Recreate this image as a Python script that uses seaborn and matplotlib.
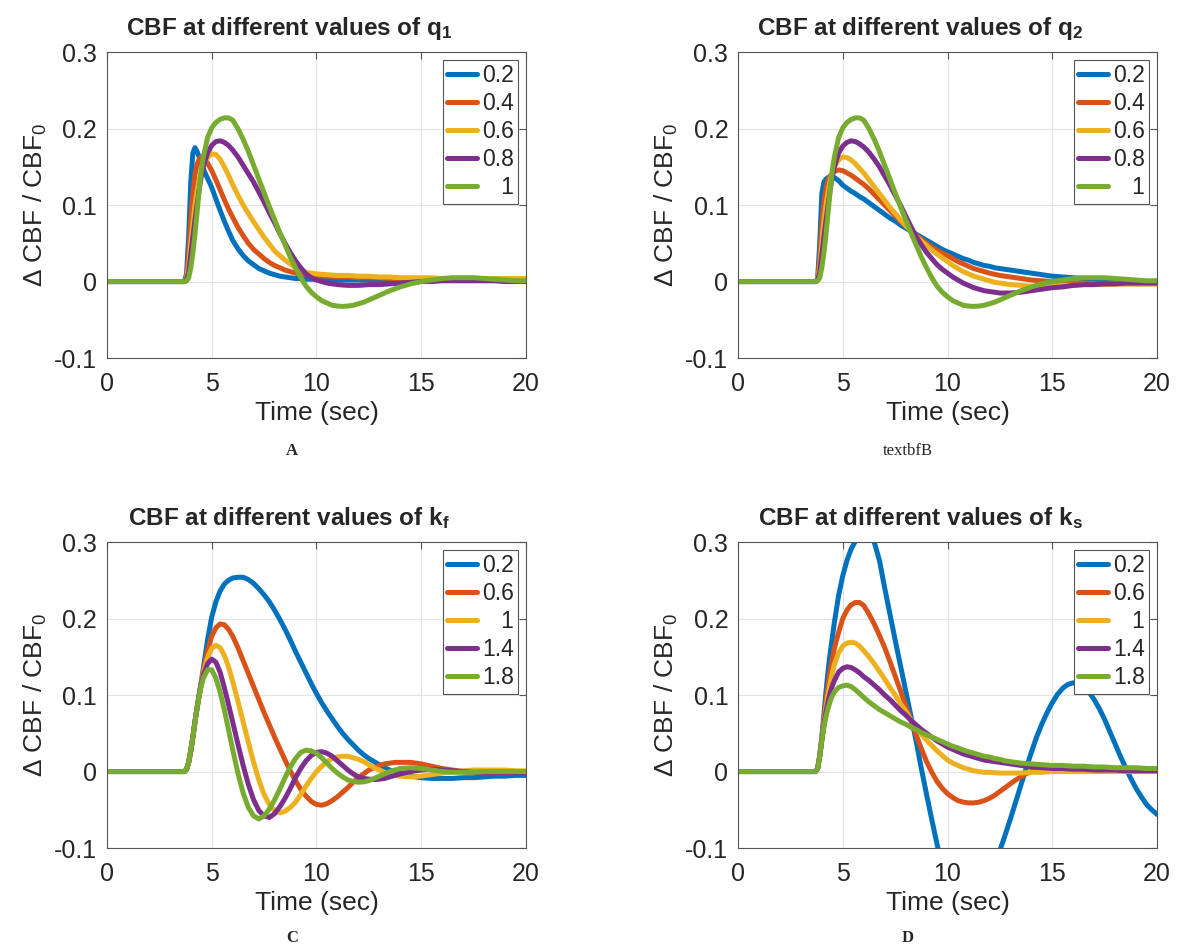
import pandas as pd
import seaborn as sns
import matplotlib
matplotlib.use("Agg")
import matplotlib.pyplot as plt

# time grid (sec) for panels A-C
t = [0, 3.7, 3.8, 3.9, 4.0, 4.1, 4.2, 4.3, 4.4, 4.5, 4.6, 4.8, 5.0, 5.2, 5.4, 5.6, 5.8,
     6.0, 6.25, 6.5, 6.75, 7.0, 7.25, 7.5, 7.75, 8.0, 8.25, 8.5, 8.75, 9.0, 9.25, 9.5, 9.75,
     10.0, 10.25, 10.5, 10.75, 11.0, 11.25, 11.5, 11.75, 12.0, 12.25, 12.5, 12.75, 13.0, 13.25, 13.5, 13.75, 14.0,
     14.5, 15.0, 15.5, 16.0, 16.5, 17.0, 17.5, 18.0, 18.5, 19.0, 19.5, 20.0]
# panel D has a finer tail (second oscillation of the 0.2 curve)
t_d = [0, 3.7, 3.8, 3.9, 4.0, 4.1, 4.2, 4.3, 4.4, 4.5, 4.6, 4.8, 5.0, 5.2, 5.4, 5.6, 5.8,
       6.0, 6.25, 6.5, 6.75, 7.0, 7.25, 7.5, 7.75, 8.0, 8.25, 8.5, 8.75, 9.0, 9.25, 9.5, 9.75,
       10.0, 10.25, 10.5, 10.75, 11.0, 11.25, 11.5, 11.75, 12.0, 12.25, 12.5, 12.75, 13.0, 13.25, 13.5, 13.75, 14.0,
       14.25, 14.5, 14.75, 15.0, 15.25, 15.5, 15.75, 16.0, 16.25, 16.5, 16.75, 17.0,
       17.25, 17.5, 17.75, 18.0, 18.25, 18.5, 18.75, 19.0, 19.25, 19.5, 19.75, 20.0]

# panel A: q1
q1_labels = ["0.2", "0.4", "0.6", "0.8", "   1"]
a_02 = [0, 0, 0.010, 0.060, 0.130, 0.168, 0.175, 0.170, 0.163, 0.155, 0.147, 0.135, 0.123, 0.108, 0.093, 0.079, 0.066,
        0.054, 0.043, 0.034, 0.027, 0.022, 0.017, 0.014, 0.011, 0.009, 0.007, 0.006, 0.005, 0.004, 0.004, 0.003, 0.003,
        0.003, 0.003, 0.002, 0.002, 0.002, 0.002, 0.002, 0.002, 0.002, 0.002, 0.002, 0.002, 0.002, 0.002, 0.002, 0.002, 0.002,
        0.002, 0.002, 0.002, 0.002, 0.002, 0.002, 0.002, 0.002, 0.002, 0.002, 0.002, 0.002]
a_04 = [0, 0, 0.005, 0.035, 0.080, 0.115, 0.140, 0.153, 0.160, 0.163, 0.162, 0.155, 0.145, 0.133, 0.120, 0.107, 0.095,
        0.084, 0.071, 0.060, 0.050, 0.042, 0.036, 0.030, 0.025, 0.021, 0.018, 0.015, 0.013, 0.011, 0.010, 0.009, 0.0085,
        0.008, 0.0075, 0.007, 0.0065, 0.006, 0.006, 0.006, 0.0055, 0.005, 0.005, 0.005, 0.005, 0.005, 0.0045, 0.004, 0.004, 0.004,
        0.004, 0.004, 0.004, 0.003, 0.003, 0.003, 0.003, 0.003, 0.003, 0.003, 0.003, 0.003]
a_06 = [0, 0, 0.003, 0.020, 0.050, 0.075, 0.100, 0.118, 0.133, 0.145, 0.153, 0.162, 0.167, 0.166, 0.160, 0.150, 0.139,
        0.127, 0.113, 0.100, 0.089, 0.078, 0.068, 0.058, 0.049, 0.040, 0.034, 0.028, 0.023, 0.018, 0.015, 0.012, 0.011,
        0.010, 0.0095, 0.009, 0.0085, 0.008, 0.008, 0.008, 0.0075, 0.007, 0.007, 0.007, 0.0065, 0.006, 0.006, 0.006, 0.0055, 0.005,
        0.005, 0.005, 0.005, 0.004, 0.004, 0.004, 0.004, 0.004, 0.004, 0.004, 0.004, 0.004]
a_08 = [0, 0, 0.002, 0.012, 0.035, 0.058, 0.080, 0.100, 0.120, 0.137, 0.150, 0.168, 0.178, 0.183, 0.184, 0.182, 0.178,
        0.172, 0.163, 0.152, 0.141, 0.130, 0.117, 0.104, 0.090, 0.077, 0.063, 0.050, 0.038, 0.027, 0.018, 0.010, 0.005,
        0.002, 0.0, -0.002, -0.003, -0.004, -0.0045, -0.005, -0.005, -0.005, -0.0045, -0.004, -0.004, -0.004, -0.0035, -0.003, -0.0025, -0.002,
        -0.001, 0.0, 0.0, 0.001, 0.001, 0.001, 0.001, 0.001, 0.001, 0.0, 0.0, 0.0]
a_10 = [0, 0, 0.001, 0.005, 0.018, 0.037, 0.062, 0.090, 0.120, 0.145, 0.163, 0.188, 0.201, 0.208, 0.212, 0.214, 0.214,
        0.211, 0.200, 0.186, 0.170, 0.152, 0.134, 0.116, 0.098, 0.081, 0.064, 0.048, 0.032, 0.018, 0.005, -0.006, -0.014,
        -0.020, -0.025, -0.028, -0.031, -0.032, -0.0325, -0.032, -0.031, -0.029, -0.027, -0.024, -0.021, -0.018, -0.015, -0.012, -0.0095, -0.007,
        -0.003, 0.0, 0.002, 0.004, 0.005, 0.005, 0.005, 0.004, 0.003, 0.002, 0.001, 0.001]

# panel B: q2
q2_labels = ["0.2", "0.4", "0.6", "0.8", "   1"]
b_02 = [0, 0, 0.003, 0.050, 0.115, 0.130, 0.134, 0.136, 0.137, 0.137, 0.136, 0.132, 0.126, 0.122, 0.118, 0.115, 0.111,
        0.108, 0.103, 0.098, 0.093, 0.088, 0.083, 0.079, 0.074, 0.070, 0.066, 0.062, 0.058, 0.054, 0.050, 0.046, 0.042,
        0.039, 0.036, 0.033, 0.030, 0.028, 0.025, 0.023, 0.021, 0.020, 0.018, 0.017, 0.016, 0.015, 0.014, 0.013, 0.012, 0.011,
        0.009, 0.007, 0.006, 0.005, 0.004, 0.003, 0.002, 0.002, 0.001, 0.001, 0.0, 0.0]
b_04 = [0, 0, 0.002, 0.030, 0.075, 0.105, 0.122, 0.132, 0.138, 0.142, 0.144, 0.146, 0.145, 0.142, 0.139, 0.135, 0.131,
        0.127, 0.121, 0.114, 0.107, 0.100, 0.093, 0.086, 0.079, 0.073, 0.067, 0.061, 0.055, 0.050, 0.045, 0.041, 0.037,
        0.034, 0.030, 0.026, 0.023, 0.020, 0.017, 0.015, 0.013, 0.011, 0.0095, 0.008, 0.007, 0.006, 0.005, 0.004, 0.003, 0.002,
        0.001, 0.0, -0.001, -0.002, -0.002, -0.003, -0.003, -0.003, -0.003, -0.003, -0.003, -0.003]
b_06 = [0, 0, 0.002, 0.018, 0.050, 0.078, 0.100, 0.118, 0.132, 0.143, 0.150, 0.159, 0.163, 0.162, 0.159, 0.154, 0.148,
        0.142, 0.133, 0.124, 0.115, 0.106, 0.097, 0.089, 0.081, 0.073, 0.066, 0.059, 0.053, 0.047, 0.041, 0.036, 0.031,
        0.026, 0.021, 0.017, 0.013, 0.010, 0.007, 0.005, 0.003, 0.001, -0.001, -0.002, -0.003, -0.004, -0.0045, -0.005, -0.0055, -0.006,
        -0.006, -0.006, -0.005, -0.005, -0.004, -0.004, -0.004, -0.003, -0.003, -0.003, -0.003, -0.003]
b_08 = [0, 0, 0.002, 0.012, 0.035, 0.058, 0.080, 0.100, 0.120, 0.137, 0.150, 0.168, 0.177, 0.182, 0.184, 0.183, 0.180,
        0.176, 0.169, 0.160, 0.150, 0.138, 0.126, 0.113, 0.100, 0.086, 0.072, 0.059, 0.048, 0.038, 0.030, 0.022, 0.016,
        0.011, 0.006, 0.002, -0.002, -0.005, -0.008, -0.010, -0.012, -0.013, -0.014, -0.015, -0.015, -0.015, -0.0145, -0.014, -0.013, -0.012,
        -0.010, -0.008, -0.007, -0.005, -0.004, -0.004, -0.003, -0.003, -0.002, -0.002, -0.002, -0.002]
b_10 = [0, 0, 0.001, 0.005, 0.018, 0.037, 0.062, 0.090, 0.120, 0.145, 0.163, 0.188, 0.201, 0.208, 0.212, 0.214, 0.214,
        0.211, 0.200, 0.186, 0.170, 0.152, 0.134, 0.116, 0.098, 0.081, 0.064, 0.048, 0.032, 0.018, 0.005, -0.006, -0.014,
        -0.020, -0.025, -0.028, -0.031, -0.032, -0.0325, -0.032, -0.031, -0.029, -0.027, -0.024, -0.021, -0.018, -0.015, -0.012, -0.0095, -0.007,
        -0.003, 0.0, 0.002, 0.004, 0.005, 0.005, 0.005, 0.004, 0.003, 0.002, 0.001, 0.001]

# panel C: kf
kf_labels = ["0.2", "0.6", "   1", "1.4", "1.8"]
c_02 = [0, 0, 0.003, 0.012, 0.027, 0.045, 0.065, 0.083, 0.100, 0.117, 0.135, 0.172, 0.202, 0.222, 0.236, 0.245, 0.250,
        0.253, 0.254, 0.254, 0.251, 0.246, 0.239, 0.231, 0.222, 0.211, 0.199, 0.186, 0.172, 0.157, 0.143, 0.129, 0.115,
        0.102, 0.090, 0.079, 0.069, 0.059, 0.050, 0.042, 0.035, 0.028, 0.022, 0.017, 0.013, 0.009, 0.005, 0.002, -0.001, -0.003,
        -0.006, -0.008, -0.009, -0.009, -0.009, -0.008, -0.008, -0.007, -0.006, -0.006, -0.005, -0.005]
c_06 = [0, 0, 0.003, 0.012, 0.027, 0.045, 0.065, 0.083, 0.100, 0.116, 0.132, 0.158, 0.177, 0.188, 0.193, 0.192, 0.186,
        0.177, 0.162, 0.145, 0.128, 0.111, 0.094, 0.077, 0.061, 0.045, 0.030, 0.015, 0.001, -0.012, -0.023, -0.032, -0.039,
        -0.043, -0.044, -0.042, -0.038, -0.033, -0.027, -0.021, -0.014, -0.008, -0.003, 0.002, 0.005, 0.008, 0.010, 0.011, 0.012, 0.012,
        0.012, 0.010, 0.007, 0.004, 0.002, 0.0, -0.001, -0.001, -0.001, -0.001, 0.0, 0.0]
c_10 = [0, 0, 0.003, 0.012, 0.027, 0.045, 0.065, 0.083, 0.100, 0.115, 0.129, 0.149, 0.161, 0.165, 0.162, 0.152, 0.137,
        0.118, 0.092, 0.065, 0.038, 0.012, -0.011, -0.030, -0.043, -0.051, -0.054, -0.052, -0.047, -0.040, -0.030, -0.019, -0.009,
        0.0, 0.007, 0.013, 0.017, 0.019, 0.020, 0.020, 0.018, 0.016, 0.013, 0.009, 0.005, 0.002, -0.001, -0.003, -0.005, -0.006,
        -0.007, -0.006, -0.004, -0.002, 0.0, 0.001, 0.002, 0.002, 0.002, 0.002, 0.001, 0.001]
c_14 = [0, 0, 0.003, 0.012, 0.027, 0.045, 0.065, 0.083, 0.100, 0.114, 0.126, 0.141, 0.147, 0.143, 0.130, 0.110, 0.088,
        0.065, 0.036, 0.008, -0.017, -0.037, -0.051, -0.058, -0.060, -0.055, -0.046, -0.035, -0.022, -0.008, 0.004, 0.014, 0.021,
        0.025, 0.026, 0.024, 0.020, 0.014, 0.008, 0.002, -0.003, -0.007, -0.009, -0.010, -0.0105, -0.010, -0.009, -0.007, -0.005, -0.003,
        0.0, 0.002, 0.003, 0.002, 0.001, 0.0, -0.001, -0.001, -0.001, -0.001, -0.001, -0.001]
c_18 = [0, 0, 0.003, 0.012, 0.027, 0.045, 0.065, 0.083, 0.099, 0.112, 0.122, 0.133, 0.133, 0.122, 0.104, 0.081, 0.055,
        0.029, -0.002, -0.028, -0.047, -0.058, -0.062, -0.058, -0.049, -0.037, -0.023, -0.008, 0.006, 0.017, 0.025, 0.028, 0.027,
        0.024, 0.018, 0.011, 0.004, -0.002, -0.007, -0.011, -0.013, -0.014, -0.0135, -0.012, -0.009, -0.006, -0.003, 0.0, 0.002, 0.004,
        0.005, 0.004, 0.002, 0.0, -0.001, -0.001, -0.001, 0.0, 0.0, 0.0, 0.0, 0.0]

# panel D: ks (on t_d)
ks_labels = ["0.2", "0.6", "   1", "1.4", "1.8"]
d_02 = [0, 0, 0.004, 0.020, 0.045, 0.075, 0.105, 0.132, 0.155, 0.175, 0.195, 0.230, 0.256, 0.276, 0.291, 0.301, 0.307,
        0.310, 0.309, 0.300, 0.276, 0.240, 0.206, 0.172, 0.139, 0.106, 0.073, 0.040, 0.004, -0.030, -0.063, -0.095, -0.124,
        -0.147, -0.165, -0.177, -0.184, -0.185, -0.181, -0.172, -0.158, -0.141, -0.122, -0.103, -0.083, -0.062, -0.040, -0.018, 0.004, 0.025,
        0.045, 0.062, 0.077, 0.090, 0.101, 0.109, 0.114, 0.116, 0.115, 0.111, 0.104, 0.094,
        0.082, 0.068, 0.052, 0.036, 0.020, 0.005, -0.009, -0.022, -0.033, -0.043, -0.050, -0.056]
d_06 = [0, 0, 0.004, 0.020, 0.043, 0.068, 0.092, 0.113, 0.132, 0.147, 0.161, 0.182, 0.200, 0.211, 0.218, 0.221, 0.221,
        0.217, 0.206, 0.193, 0.178, 0.162, 0.144, 0.125, 0.106, 0.086, 0.067, 0.048, 0.030, 0.013, -0.001, -0.013, -0.022,
        -0.029, -0.034, -0.038, -0.040, -0.041, -0.041, -0.040, -0.038, -0.035, -0.031, -0.026, -0.021, -0.016, -0.011, -0.007, -0.003, 0.0,
        0.002, 0.003, 0.0035, 0.004, 0.0045, 0.005, 0.005, 0.005, 0.005, 0.005, 0.005, 0.0045,
        0.004, 0.004, 0.004, 0.0035, 0.003, 0.003, 0.003, 0.0025, 0.002, 0.002, 0.0015, 0.001]
d_10 = [0, 0, 0.004, 0.020, 0.042, 0.064, 0.084, 0.101, 0.116, 0.129, 0.140, 0.155, 0.164, 0.168, 0.169, 0.168, 0.164,
        0.158, 0.150, 0.141, 0.131, 0.121, 0.110, 0.100, 0.089, 0.079, 0.068, 0.058, 0.049, 0.041, 0.034, 0.027, 0.021,
        0.015, 0.011, 0.008, 0.005, 0.003, 0.001, 0.0, -0.001, -0.001, -0.0015, -0.002, -0.002, -0.002, -0.002, -0.002, -0.0015, -0.001,
        -0.001, -0.001, -0.0005, 0.0, 0.0, 0.0, 0.0, 0.0, 0.0, 0.0, 0.0, 0.0,
        0.0, 0.0, 0.0, 0.0, 0.0, 0.0, 0.0, 0.0, 0.0, 0.0, 0.0, 0.0]
d_14 = [0, 0, 0.004, 0.020, 0.041, 0.061, 0.078, 0.092, 0.103, 0.112, 0.119, 0.130, 0.135, 0.137, 0.136, 0.133, 0.129,
        0.124, 0.119, 0.113, 0.107, 0.100, 0.094, 0.087, 0.080, 0.074, 0.067, 0.061, 0.055, 0.050, 0.045, 0.040, 0.036,
        0.032, 0.029, 0.026, 0.023, 0.021, 0.019, 0.017, 0.015, 0.014, 0.013, 0.012, 0.011, 0.010, 0.009, 0.008, 0.007, 0.006,
        0.0055, 0.005, 0.0045, 0.004, 0.004, 0.004, 0.0035, 0.003, 0.003, 0.003, 0.0025, 0.002,
        0.002, 0.002, 0.002, 0.002, 0.0015, 0.001, 0.001, 0.001, 0.001, 0.001, 0.001, 0.001]
d_18 = [0, 0, 0.004, 0.020, 0.040, 0.058, 0.072, 0.083, 0.092, 0.099, 0.104, 0.110, 0.112, 0.113, 0.111, 0.107, 0.102,
        0.097, 0.091, 0.086, 0.081, 0.077, 0.073, 0.069, 0.065, 0.062, 0.058, 0.055, 0.051, 0.048, 0.045, 0.042, 0.039,
        0.036, 0.033, 0.031, 0.028, 0.026, 0.024, 0.022, 0.020, 0.019, 0.017, 0.016, 0.014, 0.013, 0.012, 0.011, 0.0105, 0.010,
        0.0095, 0.009, 0.0085, 0.008, 0.008, 0.008, 0.0075, 0.007, 0.007, 0.007, 0.0065, 0.006,
        0.006, 0.006, 0.0055, 0.005, 0.005, 0.005, 0.005, 0.005, 0.0045, 0.004, 0.004, 0.004]

# matlab default line colours
colors = ["#0072BD", "#D95319", "#EDB120", "#7E2F8E", "#77AC30"]

panels = [
    (r"CBF at different values of $\mathbf{q_1}$", t, q1_labels, [a_02, a_04, a_06, a_08, a_10], "A", "bold"),
    (r"CBF at different values of $\mathbf{q_2}$", t, q2_labels, [b_02, b_04, b_06, b_08, b_10], "textbfB", "normal"),
    (r"CBF at different values of $\mathbf{k_f}$", t, kf_labels, [c_02, c_06, c_10, c_14, c_18], "C", "bold"),
    (r"CBF at different values of $\mathbf{k_s}$", t_d, ks_labels, [d_02, d_06, d_10, d_14, d_18], "D", "bold"),
]

sns.set_style("white")
plt.rcParams["font.family"] = ["Liberation Sans", "DejaVu Sans"]
plt.rcParams["mathtext.fontset"] = "custom"
plt.rcParams["mathtext.rm"] = "Liberation Sans"
plt.rcParams["mathtext.bf"] = "Liberation Sans:bold"
plt.rcParams["mathtext.it"] = "Liberation Sans:italic"

fig = plt.figure(figsize=(11.78, 9.52), dpi=100)
boxes = [[0.0908, 0.6239, 0.3557, 0.3214], [0.6265, 0.6239, 0.3557, 0.3214],
         [0.0908, 0.1092, 0.3557, 0.3214], [0.6265, 0.1092, 0.3557, 0.3214]]
caption_pos = [(0.2479, 0.5263), (0.7708, 0.5263), (0.2479, 0.0147), (0.7708, 0.0147)]

for box, (title, times, labels, curves, cap, capweight), cpos in zip(boxes, panels, caption_pos):
    ax = fig.add_axes(box)
    frames = []
    for lab, vals in zip(labels, curves):
        frames.append(pd.DataFrame({"time": times, "value": vals, "k": lab}))
    df = pd.concat(frames, ignore_index=True)
    sns.lineplot(data=df, x="time", y="value", hue="k", hue_order=labels, palette=colors,
                 estimator=None, sort=False, linewidth=3.6, ax=ax)

    ax.set_xlim(0, 20)
    ax.set_ylim(-0.1, 0.3)
    ax.set_xticks([0, 5, 10, 15, 20])
    ax.set_yticks([-0.1, 0, 0.1, 0.2, 0.3])
    ax.set_xticklabels(["0", "5", "10", "15", "20"])
    ax.set_yticklabels(["-0.1", "0", "0.1", "0.2", "0.3"])
    ax.grid(True, color="#e3e3e3", linewidth=0.8)
    ax.set_axisbelow(True)
    for s in ax.spines.values():
        s.set_color("#555555")
        s.set_linewidth(0.8)
    ax.tick_params(direction="in", length=5, width=0.8, color="#555555",
                   labelsize=18, labelcolor="#262626", top=True, right=True)
    ax.tick_params(axis="x", pad=10)
    ax.tick_params(axis="y", pad=7)
    ax.set_xlabel("Time (sec)", fontsize=19, color="#262626", labelpad=4)
    ax.set_ylabel("Δ CBF / CBF$_0$", fontsize=19, color="#262626", labelpad=4)
    ax.set_title(title, fontsize=17.5, fontweight="bold", pad=12, x=0.435)

    leg = ax.legend(loc="upper right", fontsize=16.5, frameon=True, fancybox=False,
                    framealpha=1, edgecolor="#555555", handlelength=1.3,
                    handletextpad=0.22, labelspacing=0.22, borderpad=0.18,
                    borderaxespad=0.35)
    leg.get_frame().set_linewidth(0.8)
    for line in leg.get_lines():
        line.set_linewidth(3.6)

    fig.text(cpos[0], cpos[1], cap, ha="center", va="center", fontsize=12,
             family="Liberation Serif", fontweight=capweight)

fig.savefig("out.png", dpi=100)
